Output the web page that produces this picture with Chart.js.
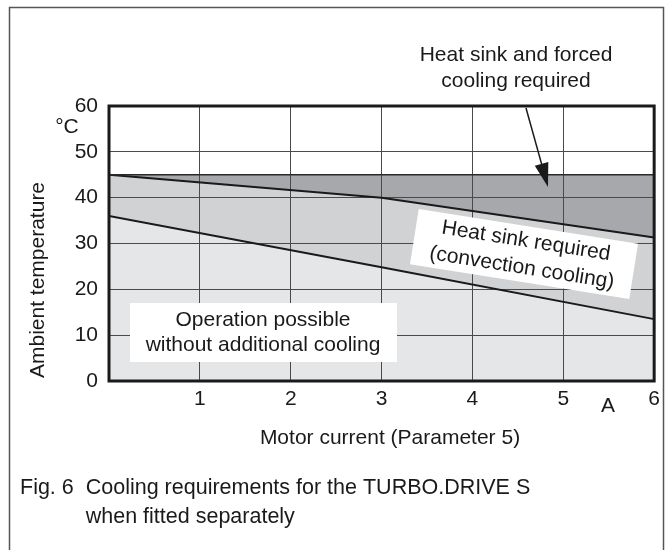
<!DOCTYPE html>
<html lang="en">
<head>
<meta charset="UTF-8">
<title>Cooling requirements</title>
<script src="https://cdn.jsdelivr.net/npm/chart.js@4.4.1/dist/chart.umd.min.js"></script>
<style>
    html, body { margin: 0; padding: 0; background: #fff; }
    #wrap { width: 666px; height: 550px; }
</style>
</head>
<body>
<div id="wrap"><canvas id="myChart"></canvas></div>
<script>
    // boundaries (x = motor current in A, y = ambient temp in °C)
    var limitX = [0, 6];
    var limitY = [45, 45];
    var upperX = [0, 3, 6];
    var upperY = [45, 40, 31.3];
    var lowerX = [0, 3, 6];
    var lowerY = [36, 24.8, 13.5];

    var xTicks = [1, 2, 3, 4, 5, 6];
    var yTicks = [0, 10, 20, 30, 40, 50, 60];

    var FONT = '"Liberation Sans", Arial, Helvetica, sans-serif';

    function pts(xs, ys) {
        return xs.map(function (x, i) { return { x: x, y: ys[i] }; });
    }

    function textLines(ctx, lines, x, y, gap) {
        lines.forEach(function (t, i) { ctx.fillText(t, x, y + i * gap); });
    }

    var decor = {
        id: 'decor',
        afterDraw: function (chart) {
            var ctx = chart.ctx;
            var a = chart.chartArea;
            ctx.save();

            // outer figure frame
            ctx.strokeStyle = '#555';
            ctx.lineWidth = 1.5;
            ctx.strokeRect(9.5, 7.5, 654, 560);

            // plot box
            ctx.strokeStyle = '#1a1a1a';
            ctx.lineWidth = 3;
            ctx.strokeRect(a.left, a.top, a.right - a.left, a.bottom - a.top);

            ctx.fillStyle = '#1a1a1a';
            ctx.textAlign = 'center';
            ctx.textBaseline = 'middle';

            // units
            ctx.font = '21px ' + FONT;
            ctx.fillText('\u00B0C', 67, 127);
            ctx.fillText('A', 608, 406);

            // axis titles
            ctx.fillText('Motor current (Parameter 5)', 390, 438);
            ctx.save();
            ctx.translate(38, 280);
            ctx.rotate(-Math.PI / 2);
            ctx.fillText('Ambient temperature', 0, 0);
            ctx.restore();

            // white label: operation possible
            ctx.fillStyle = '#fff';
            ctx.fillRect(130, 303, 267, 59);
            ctx.fillStyle = '#1a1a1a';
            textLines(ctx, ['Operation possible', 'without additional cooling'], 263, 320, 25);

            // rotated white label: heat sink required
            ctx.save();
            ctx.translate(524, 254);
            ctx.rotate(9 * Math.PI / 180);
            ctx.fillStyle = '#fff';
            ctx.fillRect(-111, -28, 222, 56);
            ctx.fillStyle = '#1a1a1a';
            textLines(ctx, ['Heat sink required', '(convection cooling)'], 0, -13, 27);
            ctx.restore();

            // top note with arrow
            textLines(ctx, ['Heat sink and forced', 'cooling required'], 516, 55, 26);
            var x0 = 526, y0 = 108, x1 = 548, y1 = 187;
            var ang = Math.atan2(y1 - y0, x1 - x0);
            var c = Math.cos(ang), s = Math.sin(ang);
            ctx.strokeStyle = '#1a1a1a';
            ctx.lineWidth = 1.5;
            ctx.beginPath();
            ctx.moveTo(x0, y0);
            ctx.lineTo(x1 - 18 * c, y1 - 18 * s);
            ctx.stroke();
            ctx.beginPath();
            ctx.moveTo(x1, y1);
            ctx.lineTo(x1 - 24 * c + 7 * s, y1 - 24 * s - 7 * c);
            ctx.lineTo(x1 - 24 * c - 7 * s, y1 - 24 * s + 7 * c);
            ctx.closePath();
            ctx.fill();

            // caption
            ctx.textAlign = 'left';
            ctx.font = '21.5px ' + FONT;
            var indent = 20 + ctx.measureText('Fig. 6  ').width;
            ctx.fillText('Fig. 6  Cooling requirements for the TURBO.DRIVE S', 20, 488);
            ctx.fillText('when fitted separately', indent, 517);
            ctx.restore();
        }
    };

    var ctx = document.getElementById('myChart').getContext('2d');
    var chart = new Chart(ctx, {
        type: 'line',
        data: {
            datasets: [
                {
                    label: 'forced cooling',
                    data: pts(limitX, limitY),
                    borderColor: '#2a2a2a',
                    borderWidth: 1.5,
                    backgroundColor: '#a7a8ab',
                    fill: { target: 1 },
                    pointRadius: 0
                },
                {
                    label: 'heat sink',
                    data: pts(upperX, upperY),
                    borderColor: '#1a1a1a',
                    borderWidth: 2,
                    backgroundColor: '#d1d2d4',
                    fill: { target: 2 },
                    pointRadius: 0
                },
                {
                    label: 'no cooling',
                    data: pts(lowerX, lowerY),
                    borderColor: '#1a1a1a',
                    borderWidth: 2,
                    backgroundColor: '#e5e6e7',
                    fill: 'origin',
                    pointRadius: 0
                }
            ]
        },
        options: {
            responsive: true,
            maintainAspectRatio: false,
            animation: false,
            events: [],
            layout: { padding: { left: 49, top: 106, right: 11, bottom: 129 } },
            plugins: {
                legend: { display: false },
                tooltip: { enabled: false },
                filler: { drawTime: 'beforeDraw' }
            },
            scales: {
                x: {
                    type: 'linear',
                    min: 0,
                    max: 6,
                    afterFit: function (s) { s.height = 40; },
                    afterBuildTicks: function (s) { s.ticks = [0].concat(xTicks).map(function (v) { return { value: v }; }); },
                    ticks: {
                        padding: 6,
                        color: '#1a1a1a',
                        font: { family: FONT, size: 21 },
                        maxRotation: 0,
                        callback: function (v) { return v === 0 ? '' : v; }
                    },
                    grid: { color: '#4a4a4a', lineWidth: 1, drawTicks: false },
                    border: { display: false }
                },
                y: {
                    type: 'linear',
                    min: 0,
                    max: 60,
                    afterFit: function (s) { s.width = 60; },
                    afterBuildTicks: function (s) { s.ticks = yTicks.map(function (v) { return { value: v }; }); },
                    ticks: {
                        padding: 11,
                        color: '#1a1a1a',
                        font: { family: FONT, size: 21 }
                    },
                    grid: { color: '#4a4a4a', lineWidth: 1, drawTicks: false },
                    border: { display: false }
                }
            }
        },
        plugins: [decor]
    });
</script>
</body>
</html>
